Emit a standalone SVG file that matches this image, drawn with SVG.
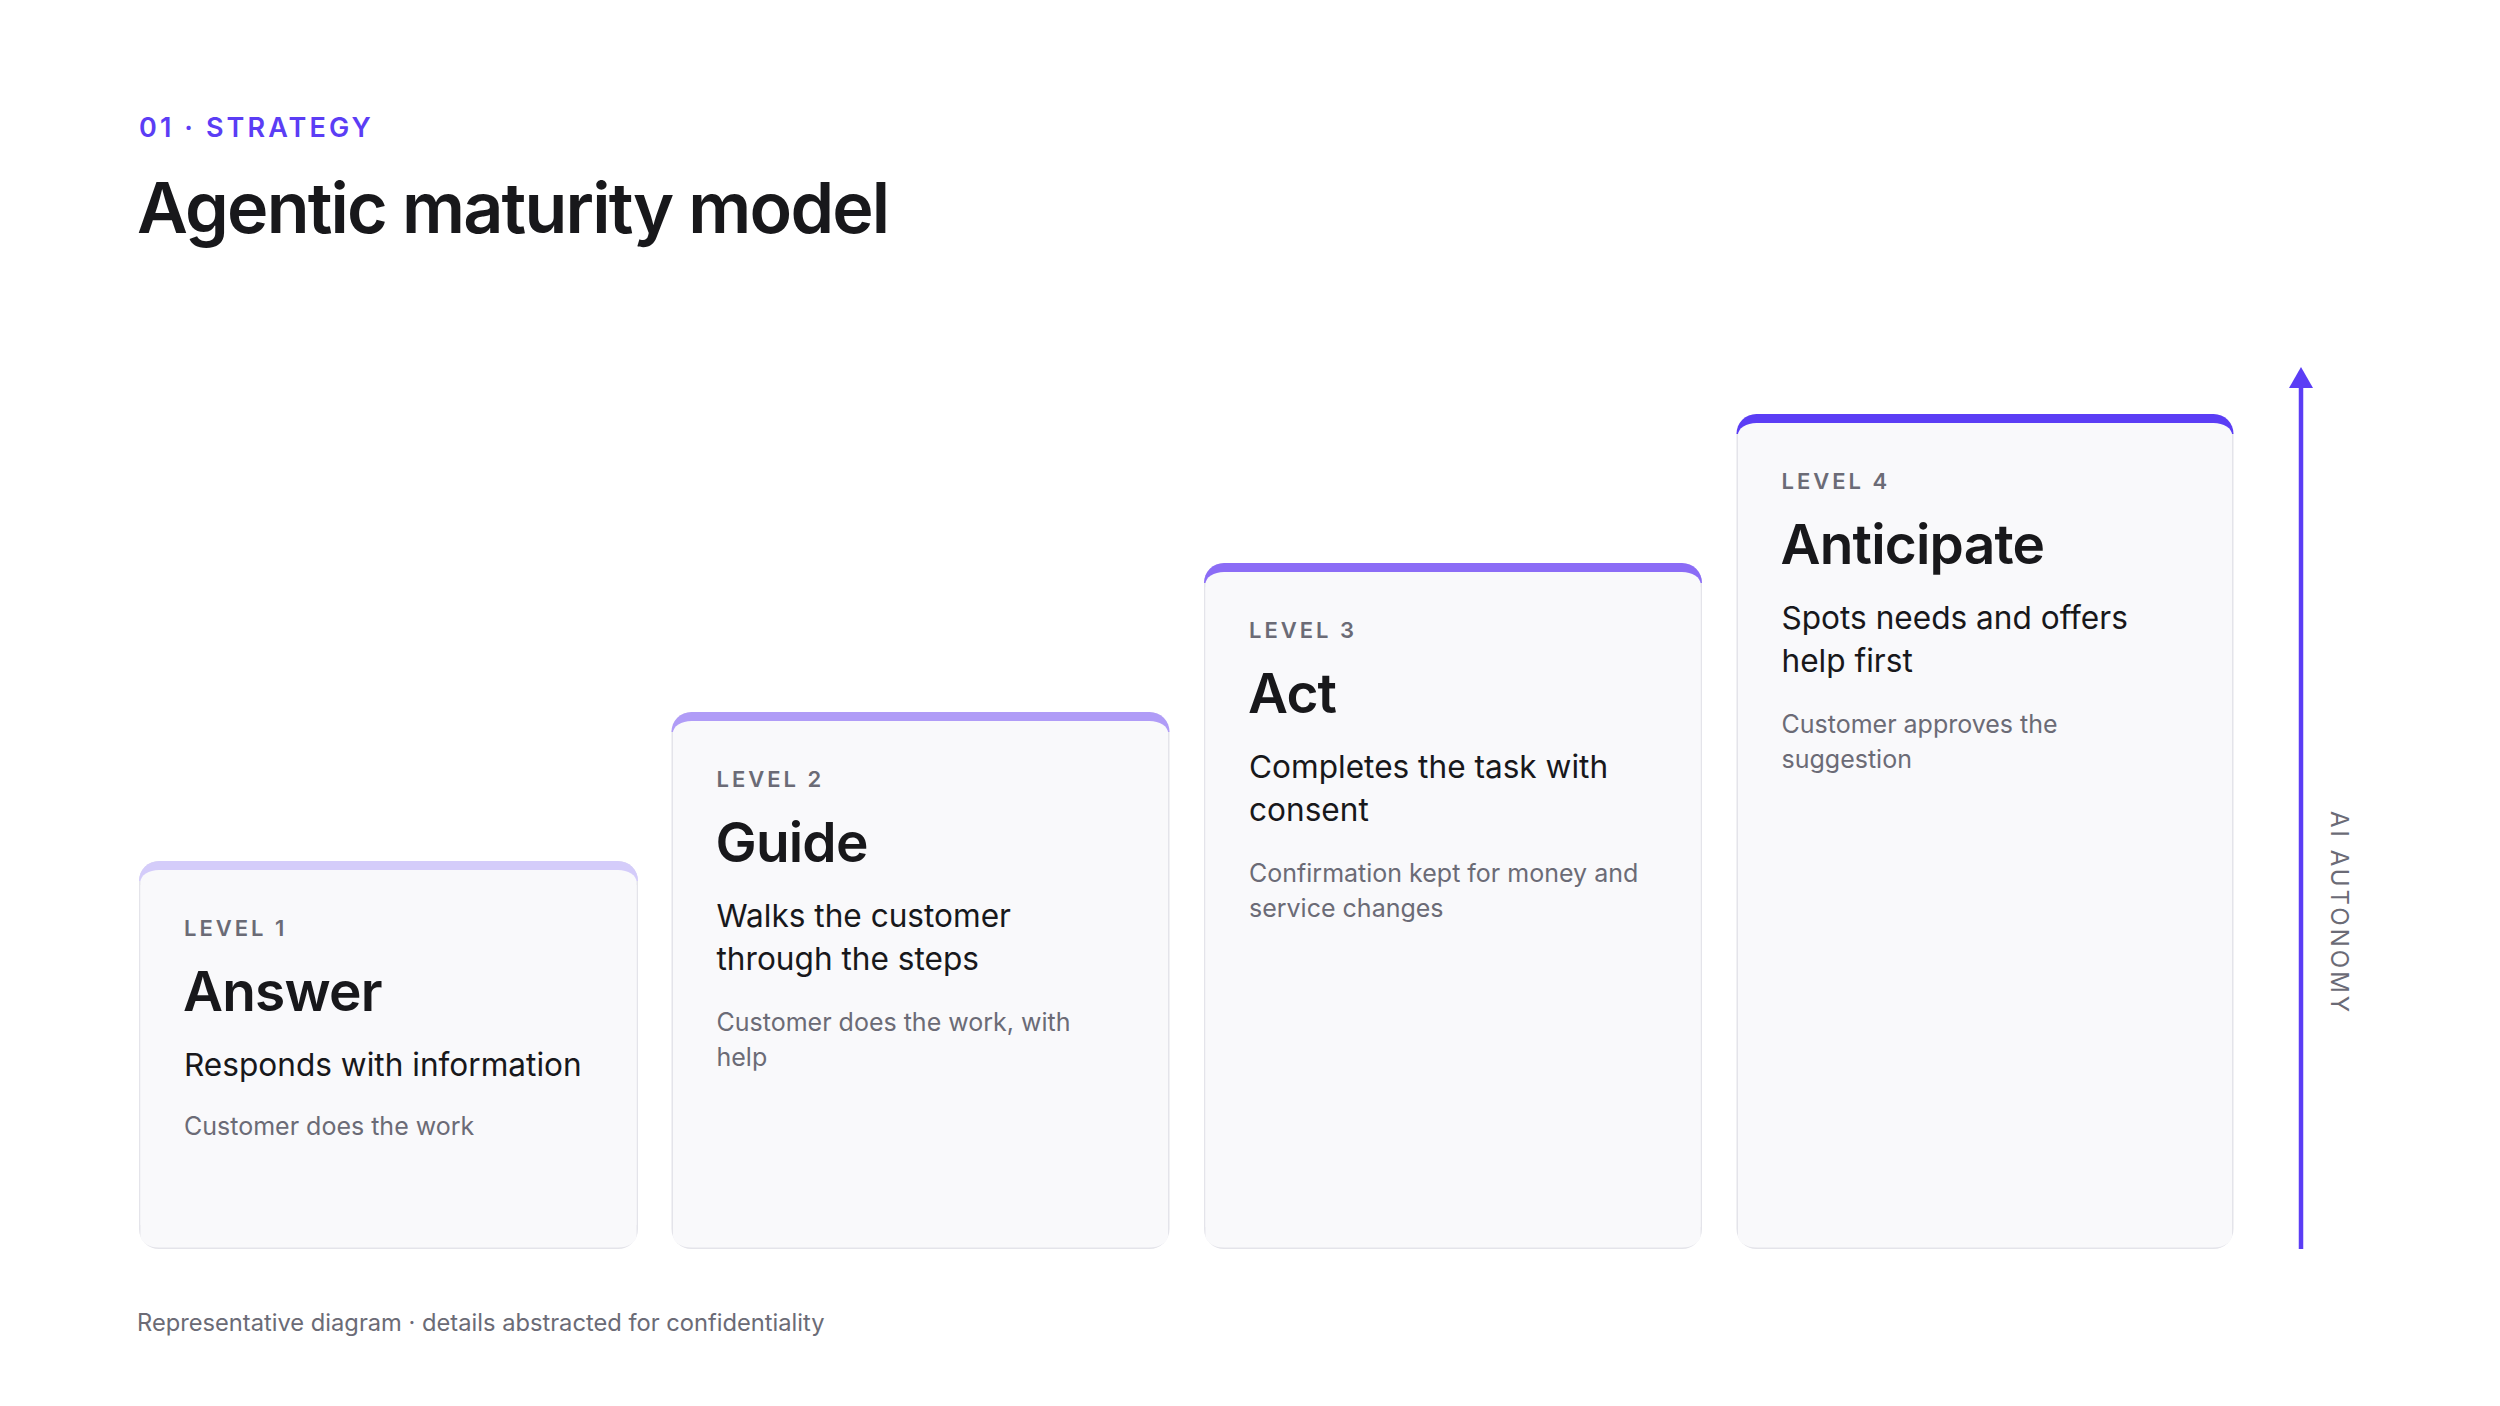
<svg xmlns="http://www.w3.org/2000/svg" width="2500" height="1406" viewBox="0 0 2500 1406">
<defs>
<style>
.eyebrow{font-family:Inter,"Liberation Sans",sans-serif;font-size:27px;font-weight:600;fill:#5b3df5;letter-spacing:3.1px}
.title{font-family:Inter,"Liberation Sans",sans-serif;font-size:70px;font-weight:600;fill:#18181b;letter-spacing:-1.8px}
.lvl{font-family:Inter,"Liberation Sans",sans-serif;font-size:22px;font-weight:600;fill:#6b6b76;letter-spacing:3px}
.name{font-family:Inter,"Liberation Sans",sans-serif;font-size:55px;font-weight:600;fill:#18181b;letter-spacing:-0.8px}
.sub{font-family:Inter,"Liberation Sans",sans-serif;font-size:31.6px;font-weight:400;fill:#18181b}
.desc{font-family:Inter,"Liberation Sans",sans-serif;font-size:25px;font-weight:400;fill:#6b6b76}
.axis{font-family:Inter,"Liberation Sans",sans-serif;font-size:24px;font-weight:400;fill:#6b6b76;letter-spacing:3px}
.foot{font-family:Inter,"Liberation Sans",sans-serif;font-size:23.7px;font-weight:400;fill:#6b6b76}
.border{fill:#e4e4ea}
.body{fill:#f9f9fb}
</style>
</defs>
<rect width="2500" height="1406" fill="#ffffff"/>
<text class="eyebrow" x="139" y="137">01 · STRATEGY</text>
<text class="title" x="137" y="233">Agentic maturity model</text>

<g id="level-1">
<rect class="border" x="139" y="861" width="499" height="388" rx="20"/>
<path d="M139,881 A20,20 0 0 1 159,861 H618 A20,20 0 0 1 638,881 Z" fill="#d4ccfa"/>
<rect class="body" x="140.5" y="870" width="496" height="377.5" rx="18.5" ry="12"/>
<rect class="body" x="140.5" y="885" width="496" height="340"/>
<text class="lvl" x="184" y="936">LEVEL 1</text>
<text class="name" x="183" y="1011">Answer</text>
<text class="sub" x="184" y="1076">Responds with information</text>
<text class="desc" x="184" y="1135">Customer does the work</text>
</g>

<g id="level-2">
<rect class="border" x="671.5" y="712" width="498" height="537" rx="20"/>
<path d="M671.5,732 A20,20 0 0 1 691.5,712 H1149.5 A20,20 0 0 1 1169.5,732 Z" fill="#b09cf7"/>
<rect class="body" x="673" y="721" width="495" height="526.5" rx="18.5" ry="12"/>
<rect class="body" x="673" y="736" width="495" height="490"/>
<text class="lvl" x="716.5" y="787">LEVEL 2</text>
<text class="name" x="715.5" y="862">Guide</text>
<text class="sub" x="716.5" y="927">Walks the customer</text>
<text class="sub" x="716.5" y="970">through the steps</text>
<text class="desc" x="716.5" y="1031">Customer does the work, with</text>
<text class="desc" x="716.5" y="1066">help</text>
</g>

<g id="level-3">
<rect class="border" x="1204" y="563" width="498" height="686" rx="20"/>
<path d="M1204,583 A20,20 0 0 1 1224,563 H1682 A20,20 0 0 1 1702,583 Z" fill="#8b6cf6"/>
<rect class="body" x="1205.5" y="572" width="495" height="675.5" rx="18.5" ry="12"/>
<rect class="body" x="1205.5" y="587" width="495" height="640"/>
<text class="lvl" x="1249" y="638">LEVEL 3</text>
<text class="name" x="1248" y="713">Act</text>
<text class="sub" x="1249" y="778">Completes the task with</text>
<text class="sub" x="1249" y="821">consent</text>
<text class="desc" x="1249" y="882">Confirmation kept for money and</text>
<text class="desc" x="1249" y="917">service changes</text>
</g>

<g id="level-4">
<rect class="border" x="1736.5" y="414" width="497" height="835" rx="20"/>
<path d="M1736.5,434 A20,20 0 0 1 1756.5,414 H2213.5 A20,20 0 0 1 2233.5,434 Z" fill="#5b3df5"/>
<rect class="body" x="1738" y="423" width="494" height="824.5" rx="18.5" ry="12"/>
<rect class="body" x="1738" y="438" width="494" height="790"/>
<text class="lvl" x="1781.5" y="489">LEVEL 4</text>
<text class="name" x="1780.5" y="564">Anticipate</text>
<text class="sub" x="1781.5" y="629">Spots needs and offers</text>
<text class="sub" x="1781.5" y="672">help first</text>
<text class="desc" x="1781.5" y="733">Customer approves the</text>
<text class="desc" x="1781.5" y="768">suggestion</text>
</g>

<g id="connectors">
<line x1="2301" y1="1249" x2="2301" y2="385" stroke="#5b3df5" stroke-width="4.5"/>
<polygon points="2301,367 2313,388 2289,388" fill="#5b3df5"/>
</g>
<text class="axis" x="2331" y="913" text-anchor="middle" transform="rotate(90 2331 913)">AI AUTONOMY</text>
<text class="foot" x="137" y="1331">Representative diagram · details abstracted for confidentiality</text>
</svg>
